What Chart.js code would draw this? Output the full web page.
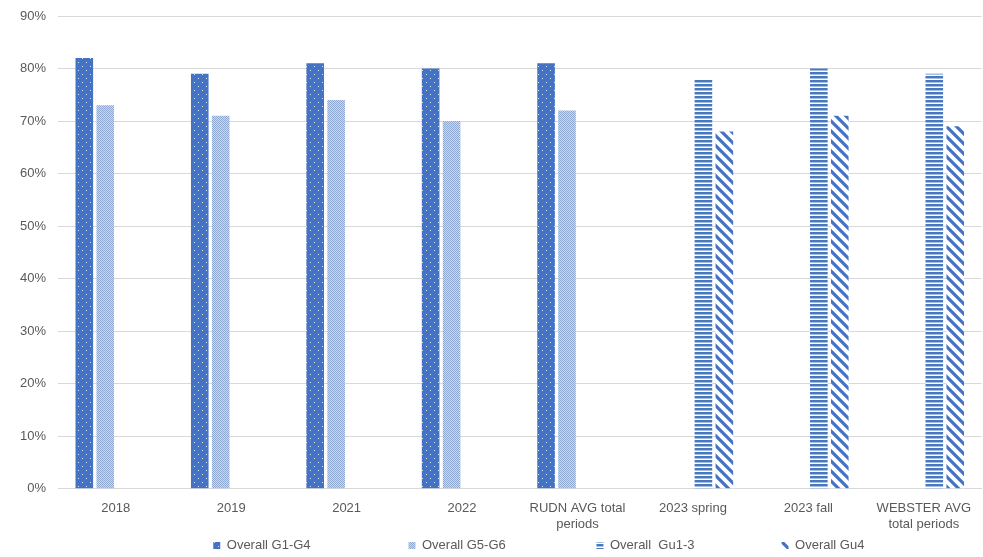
<!DOCTYPE html>
<html>
<head>
<meta charset="utf-8">
<script src="https://cdn.jsdelivr.net/npm/chart.js@4/dist/chart.umd.min.js"></script>
<style>
  html, body { margin: 0; padding: 0; background: #ffffff; }
  #wrap { width: 983px; height: 557px; position: relative; }
</style>
</head>
<body>
<div id="wrap"><canvas id="chart" width="983" height="557"></canvas></div>
<script>
// Category labels (multi-line where wrapped)
const categories = [
  '2018', '2019', '2021', '2022',
  ['RUDN AVG total', 'periods'],
  '2023 spring', '2023 fall',
  ['WEBSTER AVG', 'total periods']
];

// Series values, percent
const overallG1G4  = [82, 79, 81, 80, 81, null, null, null];
const overallG5G6  = [73, 71, 74, 70, 72, null, null, null];
const overallGu13  = [null, null, null, null, null, 78, 80, 79];
const overallGu4   = [null, null, null, null, null, 68, 71, 69];

const seriesNames = ['Overall G1-G4', 'Overall G5-G6', 'Overall  Gu1-3', 'Overall Gu4'];

// Y-axis tick values
const yTicks = [0, 10, 20, 30, 40, 50, 60, 70, 80, 90];

// --- fill patterns -------------------------------------------------------
function makePattern(w, h, draw) {
  const c = document.createElement('canvas');
  c.width = w; c.height = h;
  const g = c.getContext('2d');
  draw(g, w, h);
  return g.createPattern(c, 'repeat');
}

// solid blue with sparse white dots
const dotPattern = makePattern(8, 8, (g) => {
  g.fillStyle = '#4472c4';
  g.fillRect(0, 0, 8, 8);
  g.fillStyle = 'rgba(255,255,255,0.8)';
  g.fillRect(2, 2, 1, 1);
  g.fillRect(6, 6, 1, 1);
});

// fine light-blue checker
const checkPattern = makePattern(2, 2, (g) => {
  g.fillStyle = '#cbd8ec';
  g.fillRect(0, 0, 2, 2);
  g.fillStyle = '#8fa9d2';
  g.fillRect(0, 0, 1, 1);
  g.fillRect(1, 1, 1, 1);
});

// narrow horizontal stripes
const hStripePattern = makePattern(4, 4, (g) => {
  g.fillStyle = '#ffffff';
  g.fillRect(0, 0, 4, 4);
  g.fillStyle = '#4a78bf';
  g.fillRect(0, 0, 4, 2);
  g.fillStyle = '#a7bfe0';
  g.fillRect(0, 2, 4, 1);
});

// wide downward diagonal stripes
const dStripePattern = makePattern(10, 10, (g) => {
  g.fillStyle = '#ffffff';
  g.fillRect(0, 0, 10, 10);
  g.strokeStyle = '#4472c4';
  g.lineWidth = 3.2;
  g.beginPath();
  g.moveTo(-3, -3); g.lineTo(13, 13);
  g.moveTo(-8, 2); g.lineTo(2, 12);
  g.moveTo(8, -2); g.lineTo(18, 8);
  g.stroke();
});

const fills = [dotPattern, checkPattern, hStripePattern, dStripePattern];
const values = [overallG1G4, overallG5G6, overallGu13, overallGu4];
// blank trailing space after each legend entry keeps the entries spread out
const legendGaps = [26, 24, 23, 32];

const datasets = values.map((v, i) => ({
  label: seriesNames[i],
  data: v,
  backgroundColor: fills[i],
  borderWidth: 0
}));

Chart.defaults.font.family = '"Liberation Sans", Arial, sans-serif';
Chart.defaults.color = '#595959';

new Chart(document.getElementById('chart'), {
  type: 'bar',
  data: { labels: categories, datasets },
  options: {
    responsive: false,
    animation: false,
    devicePixelRatio: 1,
    layout: { padding: { left: 8, right: -1, top: 16, bottom: -5 } },
    datasets: {
      bar: { categoryPercentage: 0.726, barPercentage: 0.84 }
    },
    scales: {
      x: {
        grid: { display: false, drawTicks: false },
        border: { display: true, color: '#d9d9d9', width: 1 },
        ticks: { font: { size: 13 }, color: '#595959', padding: 12, maxRotation: 0, autoSkip: false },
        afterFit: (scale) => { scale.height -= 9; }
      },
      y: {
        min: 0,
        max: 90,
        afterBuildTicks: (axis) => { axis.ticks = yTicks.map(v => ({ value: v })); },
        afterFit: (scale) => { scale.paddingTop = 0; },
        grid: { color: '#d9d9d9', drawTicks: false },
        border: { display: false },
        ticks: { font: { size: 13 }, color: '#595959', padding: 12, callback: (v) => v + '%' }
      }
    },
    plugins: {
      tooltip: { enabled: false },
      legend: {
        position: 'bottom',
        align: 'end',
        labels: {
          boxWidth: 7,
          boxHeight: 7,
          padding: 4,
          font: { size: 13 },
          color: '#595959',
          generateLabels: (chart) => {
            const items = Chart.defaults.plugins.legend.labels.generateLabels(chart);
            items.forEach((it, i) => { it.text = it.text + ' '.repeat(legendGaps[i]); });
            return items;
          }
        }
      }
    }
  }
});
</script>
</body>
</html>
